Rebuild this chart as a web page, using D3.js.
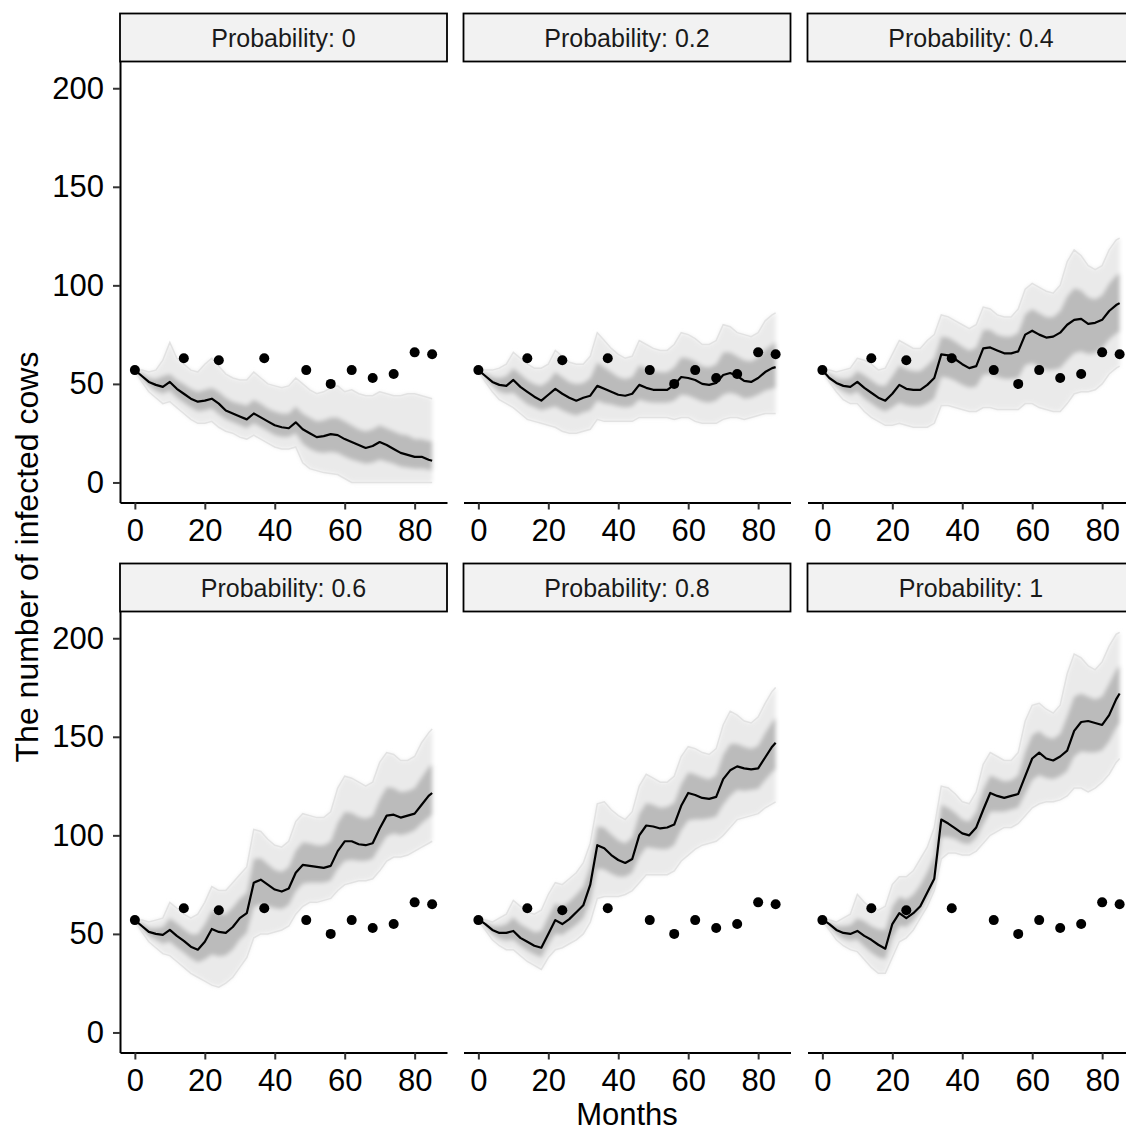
<!DOCTYPE html>
<html>
<head>
<meta charset="utf-8">
<script src="https://cdn.jsdelivr.net/npm/d3@7"></script>
<style>
	body { margin: 0; background: #ffffff; }
	svg text { font-family: "Liberation Sans", Arial, sans-serif; }
</style>
</head>
<body>
<div id="chart"></div>
<script>
// months at which the simulated runs were read off
let months = [0, 2, 4, 6, 8, 10, 12, 14, 16, 18, 20, 22, 24, 26, 28, 30, 32, 34, 36, 38, 40, 42,
	44, 46, 48, 50, 52, 54, 56, 58, 60, 62, 64, 66, 68, 70, 72, 74, 76, 78, 80, 82, 84, 85];

let probLabels = ['0', '0.2', '0.4', '0.6', '0.8', '1'];

// observed herd counts (same dots in every panel)
let obsMonths = [0, 14, 24, 37, 49, 56, 62, 68, 74, 80, 85];
let obsValues = [57, 63, 62, 63, 57, 50, 57, 53, 55, 66, 65];

// mean of the runs, per probability
let meanP0 = [57, 54, 51, 49.5, 48.5, 51, 47.5, 45, 42.5, 41, 41.5, 42.5, 40, 36.5, 35, 33.5, 32, 35, 33, 31, 29, 28,
	27.5, 30.5, 27, 25, 23, 23.5, 24.5, 24, 22, 20.5, 19, 17.5, 18.5, 20.5, 19, 17, 15, 14, 13, 13, 11.5, 11];
let meanP02 = [57, 54, 51, 49.5, 49, 52, 48.5, 46, 43.5, 41.5, 44.5, 47.5, 45, 43, 41.5, 43, 44, 49, 47.5, 46, 44.5, 44,
	45, 49.5, 48, 47, 47, 47, 49.5, 53.5, 53, 52, 50, 49.5, 50.5, 54.5, 55.5, 54, 51.5, 51, 53, 56, 58, 58.5];
let meanP04 = [57, 53, 50.5, 49, 48.5, 51, 48, 45.5, 43, 41.5, 45, 49.5, 47.5, 47, 47, 49.5, 53, 65, 64.5, 62.5, 60, 58,
	59, 68, 68.5, 67, 65.5, 65.5, 66.5, 75, 77, 75, 73.5, 74, 76, 80, 82.5, 83, 80.5, 81, 82.5, 87, 90, 91];
let meanP06 = [57, 54, 51, 50, 49.5, 52, 49, 46.5, 43.5, 42, 46, 52.5, 51, 50.5, 53.5, 58, 60.5, 76, 77.5, 75, 72.5, 71.5,
	73, 81, 85, 84.5, 84, 83.5, 84.5, 92, 97, 97, 95.5, 95, 96, 103.5, 110, 110.5, 109, 110, 111, 115.5, 120, 121.5];
let meanP08 = [57.5, 55, 52, 50.5, 50.5, 51.5, 48, 46, 44, 43, 50, 57, 55, 57.5, 61, 64.5, 75, 95, 93.5, 90, 87.5, 86,
	88, 100, 105, 104.5, 103.5, 104, 105.5, 115, 121.5, 120.5, 119, 118.5, 119.5, 128.5, 133, 135, 134, 133.5, 134, 139.5, 145, 147];
let meanP1 = [57.5, 55, 52, 50.5, 50, 51.5, 49, 47, 44.5, 42.5, 55, 60.5, 58, 60.5, 64, 71, 78, 108, 106, 103.5, 101, 100,
	104, 113, 121.5, 120, 119, 120, 121, 130, 139, 142, 139, 138, 140, 143, 153, 157.5, 158, 157, 156, 161, 169, 172];

// highest and lowest run
let hiP0 = [57, 57, 56, 57, 62, 71, 63, 60, 57, 56, 60, 63, 59, 55, 53, 52, 52, 56, 53, 50, 49, 48,
	49, 53, 50, 47, 45, 46, 48, 49, 46, 47, 45, 44, 44, 46, 45, 44, 44, 45, 45, 44, 43, 42.5];
let loP0 = [57, 51, 46, 43, 40, 41, 38, 35, 32, 30, 30, 31, 28, 26, 25, 23, 22, 24, 22, 20, 18, 17,
	17, 18, 10, 7, 6, 5, 4.5, 4, 2, 0, 0, 0, 0, 0, 0, 0, 0, 0, 0, 0, 0, 0];
let hiP02 = [57, 57, 57, 58, 60, 66, 63, 60, 58, 58, 60, 67, 64, 61, 60, 60, 64, 76, 72, 68, 65, 63,
	64, 72, 70, 68, 67, 67, 70, 76, 75, 73, 70, 70, 72, 80, 79, 76, 75, 74, 76, 82, 85, 86];
let loP02 = [57, 51, 46, 42, 40, 38, 35, 32, 31, 30, 29, 28, 26, 25, 25, 26, 27, 32, 31, 31, 31, 31,
	31, 33, 33, 33, 33, 33, 32, 33, 33, 31, 30, 30, 30, 32, 33, 33, 32, 33, 34, 35, 35, 35];
let hiP04 = [57, 57, 56, 57, 58, 63, 62, 60, 57, 58, 65, 72, 70, 68, 68, 72, 75, 85, 84, 82, 80, 78,
	80, 89, 88, 85, 84, 84, 88, 98, 101, 99, 97, 96, 100, 112, 118, 115, 110, 108, 110, 118, 123, 124];
let loP04 = [57, 51, 46, 42, 40, 40, 36, 33, 31, 29, 29, 30, 29, 28, 28, 28, 30, 39, 39, 38, 37, 36,
	36, 38, 38, 37, 37, 37, 37, 40, 40, 38, 37, 36, 36, 40, 45, 46, 46, 47, 50, 55, 58, 59];
let hiP06 = [57, 57, 56, 57, 58, 66, 63, 60, 58, 60, 66, 74, 72, 72, 76, 80, 84, 103, 102, 98, 95, 94,
	97, 107, 111, 110, 109, 109, 112, 124, 130, 129, 127, 125, 127, 137, 142, 141, 138, 138, 140, 147, 152, 154];
let loP06 = [57, 51, 46, 43, 40, 39, 36, 33, 30, 28, 26, 24, 23, 25, 28, 33, 38, 48, 50, 50, 51, 52,
	54, 60, 64, 66, 66, 67, 68, 72, 75, 76, 77, 77, 78, 82, 87, 89, 89, 90, 92, 94, 96, 97];
let hiP08 = [57, 57, 56, 58, 60, 67, 64, 61, 60, 62, 70, 76, 75, 78, 81, 86, 96, 116, 117, 113, 110, 108,
	112, 125, 131, 129, 127, 127, 130, 140, 145, 144, 142, 141, 144, 156, 163, 161, 158, 157, 160, 167, 173, 175];
let loP08 = [57, 52, 47, 44, 42, 42, 39, 36, 34, 32, 38, 42, 43, 45, 47, 50, 56, 68, 69, 69, 69, 70,
	72, 76, 80, 80, 80, 80, 82, 87, 90, 93, 95, 96, 97, 100, 104, 108, 109, 110, 111, 114, 116, 117];
let hiP1 = [57, 57, 56, 58, 60, 70, 66, 63, 62, 64, 75, 79, 79, 82, 88, 94, 104, 125, 124, 121, 117, 116,
	122, 136, 142, 140, 138, 138, 142, 158, 166, 167, 164, 162, 166, 182, 192, 190, 186, 184, 188, 196, 202, 203];
let loP1 = [57, 52, 47, 44, 42, 41, 37, 33, 30, 30, 38, 46, 48, 52, 58, 64, 72, 88, 91, 91, 90, 90,
	92, 96, 100, 102, 104, 104, 106, 110, 114, 116, 117, 117, 118, 120, 124, 124, 122, 124, 127, 131, 137, 139];

// where most of the runs sit (upper / lower edge of the dense core)
let q3P0 = [57, 55.5, 53, 52.5, 54, 55, 52, 50, 47.5, 46, 47, 48, 46, 43, 41, 40, 39, 42, 40, 37.5, 36, 35,
	35, 38.5, 35, 33, 31, 31.5, 33, 33, 31, 29, 27, 26, 27, 29, 27.5, 26, 24.5, 24, 22, 22, 21, 21];
let q1P0 = [57, 52.5, 49, 46.5, 45, 46.5, 43, 40.5, 38, 36, 36.5, 37.5, 34.5, 32, 30.5, 29, 27.5, 30, 28, 26, 24, 23,
	23, 25, 19.5, 17, 15.5, 15, 15.5, 15, 13, 11.5, 10.5, 9.5, 10, 11.5, 10.5, 9.5, 8, 7.5, 7, 7, 6.5, 6];
let q3P02 = [57, 55.5, 53.5, 53, 54, 58, 55, 52, 50, 49, 51.5, 56, 53.5, 51, 50, 50.5, 53, 61, 58.5, 56, 53.5, 52.5,
	53.5, 59.5, 58, 56.5, 56, 56, 58.5, 63.5, 63, 61.5, 59, 58.5, 60, 66, 66, 64, 62, 61.5, 63.5, 67.5, 70, 71];
let q1P02 = [57, 52.5, 49, 46, 45, 45.5, 42.5, 39.5, 38, 36.5, 37.5, 38.5, 36.5, 35, 34, 35.5, 36.5, 41.5, 40, 39.5, 38.5, 38,
	38.5, 42, 41, 40.5, 40.5, 40.5, 41.5, 44.5, 44, 42.5, 41, 40.5, 41.5, 44.5, 45.5, 44.5, 42.5, 43, 44.5, 46.5, 47.5, 48];
let q3P04 = [57, 55, 53, 52.5, 53, 56.5, 54.5, 52, 49.5, 49, 54, 59.5, 57.5, 56.5, 56.5, 59.5, 63, 74, 73.5, 71.5, 69, 67,
	68.5, 77.5, 77.5, 75, 74, 74, 76, 85.5, 88, 86, 84, 84, 87, 94.5, 98.5, 97.5, 94, 93, 95, 101, 105, 106];
let q1P04 = [57, 52, 48.5, 46, 44.5, 46, 42.5, 40, 37.5, 36, 38, 40.5, 39, 38.5, 38.5, 40, 42.5, 53.5, 53, 51.5, 49.5, 48,
	48.5, 54.5, 55, 53.5, 52.5, 52.5, 53, 59.5, 60.5, 58.5, 57, 57, 58, 62, 65.5, 66.5, 65, 65.5, 68, 72.5, 75.5, 76.5];
let q3P06 = [57, 55.5, 53, 53, 53.5, 58, 55.5, 52.5, 50, 50, 55, 62, 60.5, 60, 63.5, 68, 71, 88, 88.5, 85.5, 82.5, 81.5,
	84, 92.5, 96.5, 96, 95, 95, 97, 106.5, 112, 111.5, 109.5, 108.5, 110, 118.5, 124.5, 124, 122, 122.5, 124, 129.5, 134.5, 136];
let q1P06 = [57, 52.5, 49, 47, 45, 46, 43, 40.5, 37.5, 35.5, 37, 39.5, 38.5, 39, 42, 47, 50.5, 63.5, 65, 64, 63, 62.5,
	64.5, 71.5, 75.5, 76, 76, 76, 77, 83, 87, 87.5, 87, 87, 88, 94, 99.5, 101, 100, 101, 102.5, 106, 109, 110.5];
let q3P08 = [57.5, 56, 54, 54, 55, 58.5, 55, 53, 51, 51.5, 59, 65.5, 64, 66.5, 70, 74, 84.5, 104.5, 104, 100.5, 97.5, 96,
	99, 111, 116.5, 115.5, 114, 114.5, 116.5, 126, 132, 131, 129.5, 128.5, 130.5, 141, 146.5, 146.5, 145, 144, 145.5, 152, 157.5, 159.5];
let q1P08 = [57.5, 53.5, 50, 47.5, 46.5, 47, 44, 41.5, 39.5, 38, 44.5, 50, 49.5, 52, 54.5, 58, 66.5, 83, 82.5, 80.5, 79, 79,
	81, 89, 94, 93.5, 93, 93, 95, 102.5, 107.5, 108, 108, 108.5, 109.5, 115.5, 120, 123, 122.5, 123, 123.5, 128, 132, 133.5];
let q3P1 = [57.5, 56, 54, 54, 54.5, 58, 56.5, 54, 52.5, 52, 64, 69, 67.5, 70, 75, 81.5, 89.5, 115.5, 114, 111.5, 108, 107,
	112, 123.5, 130.5, 129, 127.5, 128, 130.5, 142.5, 151, 153, 150, 149, 151.5, 160.5, 170.5, 172, 170.5, 169, 170.5, 177, 184, 186];
let q1P1 = [57.5, 53.5, 50, 47.5, 46.5, 47, 43.5, 40.5, 38, 37, 47.5, 54, 53.5, 56.5, 61.5, 68, 75.5, 99, 99, 98, 96, 95.5,
	98.5, 105.5, 112, 112, 112, 113, 114, 121, 128, 130.5, 129, 128.5, 130, 132.5, 140, 142.5, 142, 142, 143, 147.5, 154.5, 157];

let xTicks = [0, 20, 40, 60, 80];
let yTicks = [0, 50, 100, 150, 200];

let panels = [
	{mean: meanP0, hi: hiP0, lo: loP0, q3: q3P0, q1: q1P0},
	{mean: meanP02, hi: hiP02, lo: loP02, q3: q3P02, q1: q1P02},
	{mean: meanP04, hi: hiP04, lo: loP04, q3: q3P04, q1: q1P04},
	{mean: meanP06, hi: hiP06, lo: loP06, q3: q3P06, q1: q1P06},
	{mean: meanP08, hi: hiP08, lo: loP08, q3: q3P08, q1: q1P08},
	{mean: meanP1, hi: hiP1, lo: loP1, q3: q3P1, q1: q1P1}
].map((p, i) => Object.assign(p, {label: 'Probability: ' + probLabels[i], col: i % 3, row: Math.floor(i / 3)}));

let width = 1126;
let height = 1131;
let colX = [120, 463.5, 807.5];
let panelW = 327;
let rowY = [61.5, 611.5];
let panelH = 441;
let stripH = 48;

let xScale = d3.scaleLinear()
		.domain([-4.25, 89.25])
		.range([0, panelW]);

let yScale = d3.scaleLinear()
		.domain([-10.17, 213.57])
		.range([panelH, 0]);

let svg = d3.select('#chart')
		.append('svg')
		.attr('width', width)
		.attr('height', height);

// soft edges so the bands read like a cloud of runs
let defs = svg.append('defs');
defs.append('filter')
		.attr('id', 'soft')
		.attr('x', '-5%').attr('y', '-5%')
		.attr('width', '110%').attr('height', '110%')
		.append('feGaussianBlur')
		.attr('stdDeviation', 2.2);

let bandArea = d3.area()
		.x((d, i) => xScale(months[i]))
		.y0(d => yScale(d[0]))
		.y1(d => yScale(d[1]));

let runLine = d3.line()
		.x((d, i) => xScale(months[i]))
		.y(d => yScale(d));

let pg = svg.selectAll('g.panel')
		.data(panels)
		.enter()
		.append('g')
		.attr('class', 'panel')
		.attr('transform', d => `translate(${colX[d.col]},${rowY[d.row]})`);

// strip on top of every panel
pg.append('rect')
		.attr('x', 0)
		.attr('y', -stripH)
		.attr('width', panelW)
		.attr('height', stripH)
		.attr('fill', '#f2f2f2')
		.attr('stroke', '#000')
		.attr('stroke-width', 1.8);

pg.append('text')
		.attr('x', panelW / 2)
		.attr('y', -stripH / 2)
		.attr('dy', '0.36em')
		.attr('text-anchor', 'middle')
		.attr('font-size', 25)
		.attr('fill', '#1a1a1a')
		.text(d => d.label);

// spread of the runs
let bands = pg.append('g')
		.attr('filter', 'url(#soft)');

bands.append('path')
		.attr('d', d => bandArea(d.lo.map((v, i) => [v, d.hi[i]])))
		.attr('fill', '#eaeaea');

bands.append('path')
		.attr('d', d => bandArea(d.q1.map((v, i) => [v, d.q3[i]])))
		.attr('fill', '#bbbbbb');

pg.append('path')
		.attr('d', d => runLine(d.hi))
		.attr('fill', 'none')
		.attr('stroke', '#e2e2e2')
		.attr('stroke-width', 1.5);

pg.append('path')
		.attr('d', d => runLine(d.lo))
		.attr('fill', 'none')
		.attr('stroke', '#e2e2e2')
		.attr('stroke-width', 1.5);

pg.append('path')
		.attr('d', d => runLine(d.mean))
		.attr('fill', 'none')
		.attr('stroke', '#000')
		.attr('stroke-width', 2.2)
		.attr('stroke-linejoin', 'round');

pg.selectAll('circle')
		.data(obsMonths)
		.enter()
		.append('circle')
		.attr('cx', m => xScale(m))
		.attr('cy', (m, i) => yScale(obsValues[i]))
		.attr('r', 5)
		.attr('fill', '#000');

// x axis under every panel
pg.append('g')
		.attr('class', 'x-axis')
		.attr('transform', `translate(0,${panelH})`)
		.call(d3.axisBottom(xScale).tickValues(xTicks).tickSize(7).tickSizeOuter(0).tickPadding(9));

// y axis only on the first column
pg.filter(d => d.col === 0)
		.append('g')
		.attr('class', 'y-axis')
		.call(d3.axisLeft(yScale).tickValues(yTicks).tickSize(7).tickSizeOuter(0).tickPadding(9));

svg.selectAll('.domain')
		.attr('stroke', '#000')
		.attr('stroke-width', 2);

svg.selectAll('.tick line')
		.attr('stroke', '#333')
		.attr('stroke-width', 2);

svg.selectAll('.tick text')
		.attr('font-size', 31)
		.attr('fill', '#000')
		.style('font-family', '"Liberation Sans", Arial, sans-serif');

// axis titles
svg.append('text')
		.attr('x', 627)
		.attr('y', 1125)
		.attr('text-anchor', 'middle')
		.attr('font-size', 31)
		.attr('fill', '#000')
		.text('Months');

svg.append('text')
		.attr('transform', 'translate(38,557) rotate(-90)')
		.attr('text-anchor', 'middle')
		.attr('font-size', 32)
		.attr('fill', '#000')
		.text('The number of infected cows');
</script>
</body>
</html>
